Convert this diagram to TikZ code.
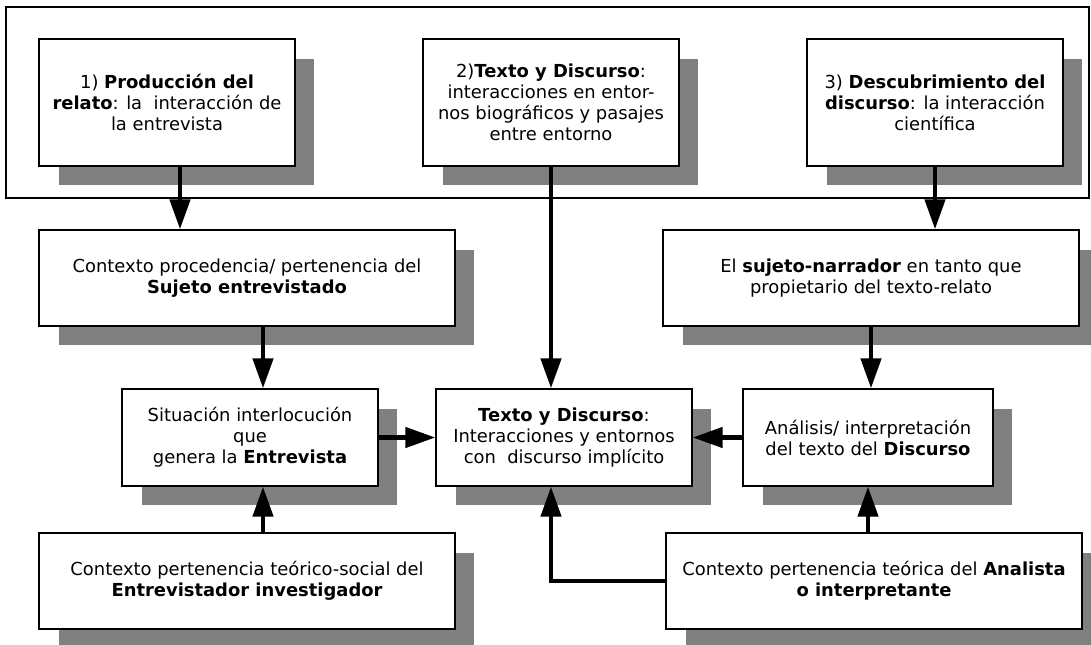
\documentclass[tikz,border=0pt]{standalone}
\usepackage{fontspec}
\setmainfont{DejaVu Sans}
\usetikzlibrary{arrows.meta}
\usetikzlibrary{shadows}

\begin{document}
\begin{tikzpicture} [
        x=0.02cm, y=-0.02cm,
        box/.style={draw, fill=white, line width=0.8pt, rectangle, align=center,
            font=\fontsize{10.2pt}{12pt}\selectfont,
            drop shadow={shadow xshift=0.39cm, shadow yshift=-0.39cm, fill=gray, opacity=1}},
        topbox/.style={box, minimum width=5.12cm, minimum height=2.54cm},
        widebox/.style={box, minimum width=8.32cm, minimum height=1.92cm},
        midbox/.style={box, minimum width=5.12cm, minimum height=1.94cm},
        arr/.style={line width=2.6pt, -{Triangle[width=0.4cm, length=0.6cm]}} ]
    \useasboundingbox (0,0) rectangle (1091,645);
    \draw[line width=0.6pt] (6,7) rectangle (1089,198);
    \node[topbox] (prod) at (167,102.5) {1) \textbf{Producción del}\\\textbf{relato}: la\ \ interacción de\\la entrevista};
    \node[topbox] (texto) at (551,102.5) {2)\textbf{Texto y Discurso}:\\interacciones en entor-\\nos biográficos y pasajes\\entre entorno};
    \node[topbox] (descub) at (935,102.5) {3) \textbf{Descubrimiento del}\\\textbf{discurso}: la interacción\\científica};
    \node[widebox] (sujeto) at (247,278) {Contexto procedencia/ pertenencia del\\\textbf{Sujeto entrevistado}};
    \node[midbox] (situa) at (250,437.5) {Situación interlocución\\que\\genera la \textbf{Entrevista}};
    \node[widebox] (entrev) at (247,581) {Contexto pertenencia teórico-social del\\\textbf{Entrevistador investigador}};
    \node[midbox] (centro) at (564,437.5) {\textbf{Texto y Discurso}:\\Interacciones y entornos\\con\ \ discurso implícito};
    \node[widebox] (narrador) at (871,278) {El \textbf{sujeto-narrador} en tanto que\\propietario del texto-relato};
    \node[midbox, minimum width=5cm] (analisis) at (868,437.5) {Análisis/ interpretación\\del texto del \textbf{Discurso}};
    \node[widebox] (analista) at (874,581) {Contexto pertenencia teórica del \textbf{Analista}\\\textbf{o interpretante}};
    \draw[arr] ([xshift=0.26cm]prod.south) -- ([xshift=0.26cm]prod.south |- sujeto.north);
    \draw[arr] ([xshift=0.26cm]situa.north |- sujeto.south) -- ([xshift=0.26cm]situa.north);
    \draw[arr] ([xshift=0.26cm]situa.south |- entrev.north) -- ([xshift=0.26cm]situa.south);
    \draw[arr] (situa.east) -- (centro.west);
    \draw[arr] (texto.south) -- (texto.south |- centro.north);
    \draw[arr] (descub.south) -- (descub.south |- narrador.north);
    \draw[arr] (narrador.south) -- (narrador.south |- analisis.north);
    \draw[arr] (analisis.west) -- (centro.east);
    \draw[arr] (analisis.south |- analista.north) -- (analisis.south);
    \draw[arr] (analista.west) -| (texto.south |- centro.south);
\end{tikzpicture}
\end{document}
